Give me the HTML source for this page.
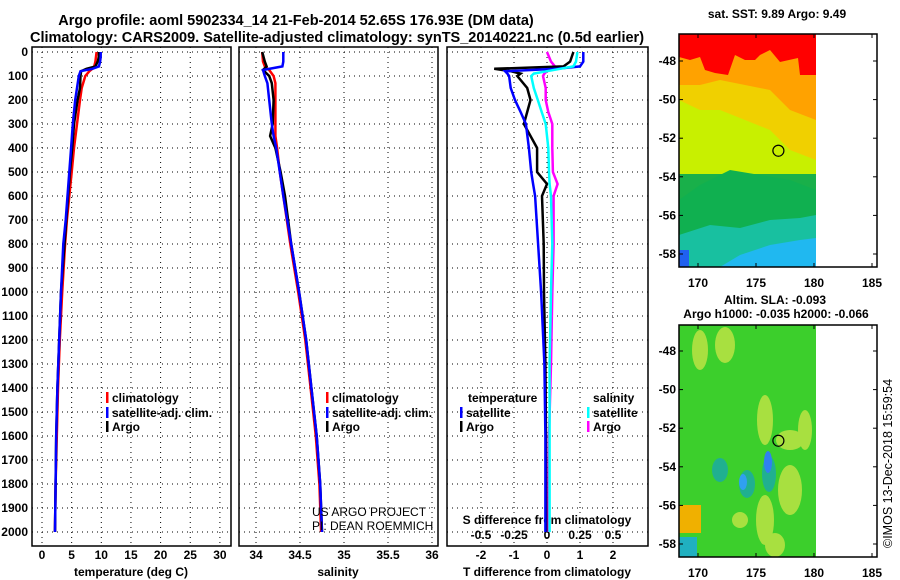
<!DOCTYPE html>
<html><head><meta charset="utf-8"><style>
body{margin:0;background:#fff;}
svg{display:block;font-family:"Liberation Sans",sans-serif;}
text{font-weight:bold;font-size:12px;fill:#000;}
</style></head><body>
<svg id="fig" width="900" height="580" viewBox="0 0 900 580">
<text x="296" y="25" text-anchor="middle" style="font-size:14.5px">Argo profile: aoml 5902334_14 21-Feb-2014 52.65S 176.93E (DM data)</text>
<text x="337" y="42" text-anchor="middle" style="font-size:14.5px">Climatology: CARS2009. Satellite-adjusted climatology: synTS_20140221.nc (0.5d earlier)</text>
<g id="maps"></g>
<g id="panels"></g>
</svg>
<script>
// ---- data ----
const depthT = [0,20,40,60,70,80,100,150,200,300,400,500,600,700,800,1000,1200,1400,1600,1800,2000];
const tempClim = [9.2,9.1,9.0,8.8,8.5,8.0,7.3,6.7,6.4,5.9,5.4,5.0,4.6,4.2,3.9,3.4,3.0,2.7,2.5,2.3,2.2];
const tempSat  = [9.9,9.9,9.8,9.6,8.5,6.5,6.2,5.9,5.6,5.2,4.9,4.6,4.3,4.0,3.6,3.2,2.9,2.6,2.4,2.3,2.2];
const tempArgo = [9.6,9.6,9.4,9.0,7.5,6.6,6.5,6.4,6.0,5.4,5.1,4.7,4.4,4.1,3.8,3.2,2.9,2.6,2.4,2.3,2.2];
const depthS = [0,40,60,75,100,130,200,300,350,400,500,600,800,1000,1200,1400,1600,1800,2000];
const salClim = [34.07,34.08,34.1,34.15,34.2,34.22,34.22,34.22,34.22,34.24,34.27,34.31,34.39,34.48,34.56,34.62,34.68,34.72,34.74];
const salSat  = [34.31,34.31,34.3,34.08,34.1,34.13,34.15,34.18,34.2,34.23,34.27,34.31,34.4,34.49,34.57,34.63,34.69,34.73,34.75];
const salArgo = [34.07,34.1,34.12,34.08,34.15,34.18,34.2,34.19,34.16,34.22,34.28,34.33,34.4,34.49,34.57,34.63,34.69,34.73,34.75];
const depthD = [0,40,60,70,80,90,100,150,200,250,300,400,500,550,600,800,1000,1300,1600,2000];
const tDiffSat  = [1.1,1.1,1.0,0.3,-1.27,-1.2,-1.15,-1.1,-0.97,-0.8,-0.64,-0.55,-0.48,-0.42,-0.36,-0.27,-0.18,-0.08,-0.05,-0.05];
const tDiffArgo = [0.8,0.7,0.5,-1.6,-1.1,-0.8,-0.9,-0.6,-0.5,-0.6,-0.7,-0.3,-0.3,0.0,-0.15,-0.1,-0.09,-0.05,-0.03,-0.02];
const sDiffSat  = [0.23,0.22,0.2,0.1,0.0,-0.1,-0.12,-0.1,-0.07,-0.04,-0.01,0.01,0.015,0.02,0.03,0.04,0.03,0.02,0.02,0.02];
const sDiffArgo = [0.0,0.03,0.06,0.04,0.0,-0.02,-0.03,-0.01,-0.01,0.01,0.04,0.04,0.045,0.08,0.05,0.05,0.04,0.03,0.015,0.01];
const depthTicks = [0,100,200,300,400,500,600,700,800,900,1000,1100,1200,1300,1400,1500,1600,1700,1800,1900,2000];
const tempTicks = [0,5,10,15,20,25,30];
const salTicks = [34,34.5,35,35.5,36];
const tdTicks = [-2,-1,0,1,2];
const sdTicks = [-0.5,-0.25,0,0.25,0.5];
const lonTicks = [170,175,180,185];
const latTicks = [-48,-50,-52,-54,-56,-58];

const NS='http://www.w3.org/2000/svg';
function el(tag,attrs,parent,txt){const e=document.createElementNS(NS,tag);for(const k in attrs)e.setAttribute(k,attrs[k]);if(txt!==undefined)e.textContent=txt;parent.appendChild(e);return e;}
const panels=document.getElementById('panels');
const Y=d=>52+0.24*d;
const pTop=47,pBot=546;

function frame(x0,x1,g){
  const r=el('rect',{x:x0,y:pTop,width:x1-x0,height:pBot-pTop,fill:'none',stroke:'#000','stroke-width':1.5},g);
  
  
}
function hgrid(x0,x1,g){
  depthTicks.forEach(d=>{
    const l=el('line',{x1:x0,x2:x1,y1:Y(d),y2:Y(d),stroke:'#000','stroke-dasharray':'1,4'},g);
    
    
  });
}
function vgrid(xs,g){
  xs.forEach(x=>{
    const l=el('line',{x1:x,x2:x,y1:pTop,y2:pBot,stroke:'#000','stroke-dasharray':'1,4'},g);
    
    
  });
}
function line(xs,ds,Xf,color,g,name){
  const pts=xs.map((v,i)=>Xf(v).toFixed(1)+','+Y(ds[i]).toFixed(1)).join(' ');
  const p=el('polyline',{points:pts,fill:'none',stroke:color,'stroke-width':2.5},g);
  
  
}
function legend(x,y,color,label,g){
  const m=el('rect',{x:x,y:y-10,width:2.5,height:11,fill:color},g);
  
  
  const t=el('text',{x:x+6,y:y},g,label);
  
  
}

// Panel 1 temperature
const XT=t=>42+5.93*t;
let g1=el('g',{},panels);


hgrid(32,231,g1); vgrid(tempTicks.map(XT),g1);
depthTicks.forEach(d=>{const t=el('text',{x:28,y:Y(d)+4,'text-anchor':'end'},g1,String(d));});
tempTicks.forEach(v=>{const t=el('text',{x:XT(v),y:559,'text-anchor':'middle'},g1,String(v));});
let xl=el('text',{x:131,y:576,'text-anchor':'middle'},g1,'temperature (deg C)');

line(tempClim,depthT,XT,'#f00',g1,'temp-climatology-line');
line(tempArgo,depthT,XT,'#000',g1,'temp-argo-line');
line(tempSat,depthT,XT,'#00f',g1,'temp-satellite-line');
legend(106,402,'#f00','climatology',g1);
legend(106,417,'#00f','satellite-adj. clim.',g1);
legend(106,431,'#000','Argo',g1);
frame(32,231,g1);

// Panel 2 salinity
const XS=s=>256+88*(s-34);
let g2=el('g',{},panels);


hgrid(239,438,g2); vgrid(salTicks.map(XS),g2);
salTicks.forEach(v=>{const t=el('text',{x:XS(v),y:559,'text-anchor':'middle'},g2,String(v));});
xl=el('text',{x:338,y:576,'text-anchor':'middle'},g2,'salinity');

line(salClim,depthS,XS,'#f00',g2,'sal-climatology-line');
line(salArgo,depthS,XS,'#000',g2,'sal-argo-line');
line(salSat,depthS,XS,'#00f',g2,'sal-satellite-line');
legend(326,402,'#f00','climatology',g2);
legend(326,417,'#00f','satellite-adj. clim.',g2);
legend(326,431,'#000','Argo',g2);
let c1=el('text',{x:312,y:516,style:'font-weight:normal'},g2,'US ARGO PROJECT');

let c2=el('text',{x:312,y:530,style:'font-weight:normal'},g2,'PI: DEAN ROEMMICH');

frame(239,438,g2);

// Panel 3 differences
const XTD=v=>547+33*v, XSD=v=>547+132*v;
let g3=el('g',{},panels);


hgrid(447,648,g3); vgrid(tdTicks.map(XTD),g3);
tdTicks.forEach(v=>{const t=el('text',{x:XTD(v),y:559,'text-anchor':'middle'},g3,String(v));});
sdTicks.forEach(v=>{const t=el('text',{x:XSD(v),y:539,'text-anchor':'middle'},g3,String(v));});
xl=el('text',{x:547,y:576,'text-anchor':'middle'},g3,'T difference from climatology');

xl=el('text',{x:547,y:524,'text-anchor':'middle'},g3,'S difference from climatology');

line(sDiffArgo,depthD,XSD,'#f0f',g3,'sdiff-argo-line');
line(tDiffArgo,depthD,XTD,'#000',g3,'tdiff-argo-line');
line(tDiffSat,depthD,XTD,'#00f',g3,'tdiff-satellite-line');
line(sDiffSat,depthD,XSD,'#0ff',g3,'sdiff-satellite-line');
let lt=el('text',{x:468,y:402},g3,'temperature');
let ls=el('text',{x:593,y:402},g3,'salinity');
legend(460,417,'#00f','satellite',g3);
legend(460,431,'#000','Argo',g3);
legend(587,417,'#0ff','satellite',g3);
legend(587,431,'#f0f','Argo',g3);
frame(447,648,g3);

// ---- maps ----
const maps=document.getElementById('maps');
const LX=lon=>698+11.6*(lon-170);
function mapAxes(g,y0,y1,lat48y){
  const LY=lat=>lat48y+19.3*(-48-lat);
  el('rect',{x:679,y:y0,width:198,height:y1-y0,fill:'none',stroke:'#000','stroke-width':1.5},g);
  lonTicks.forEach(v=>{
    el('line',{x1:LX(v),x2:LX(v),y1:y0,y2:y0+4,stroke:'#000'},g);
    el('line',{x1:LX(v),x2:LX(v),y1:y1,y2:y1-4,stroke:'#000'},g);
    const t=el('text',{x:LX(v),y:y1+20,'text-anchor':'middle'},g,String(v));
    
  });
  latTicks.forEach(v=>{
    el('line',{x1:679,x2:683,y1:LY(v),y2:LY(v),stroke:'#000'},g);
    el('line',{x1:873,x2:877,y1:LY(v),y2:LY(v),stroke:'#000'},g);
    const t=el('text',{x:676,y:LY(v)+4,'text-anchor':'end'},g,String(v));
    
  });
  const c=el('circle',{cx:LX(176.93),cy:LY(-52.65),r:5.5,fill:'none',stroke:'#000','stroke-width':1.2},g);
  
  return LY;
}
// SST map
let gm1=el('g',{},maps);

el('rect',{x:679,y:34,width:137,height:233,fill:'#19b04a'},gm1);
el('rect',{x:679,y:34,width:137,height:140,fill:'#c8f000'},gm1);
el('polygon',{points:'679,34 816,34 816,160 790,150 770,130 745,120 720,110 700,110 679,100',fill:'#f0d000'},gm1);
el('polygon',{points:'679,34 816,34 816,120 790,110 770,90 745,85 720,80 700,85 679,85',fill:'#ffa200'},gm1);
el('polygon',{points:'679,34 816,34 816,75 800,75 798,58 780,62 770,50 760,55 755,60 745,60 735,55 728,75 715,73 705,70 700,57 690,60 679,57',fill:'#ff0000'},gm1);
el('polygon',{points:'679,200 700,185 730,170 760,175 790,180 816,190 816,267 679,267',fill:'#10b050'},gm1);
el('polygon',{points:'679,235 710,225 740,228 770,220 800,218 816,215 816,267 679,267',fill:'#18c0a0'},gm1);
el('polygon',{points:'720,267 740,255 770,245 800,240 816,238 816,267',fill:'#20b8f0'},gm1);
el('rect',{x:679,y:250,width:10,height:17,fill:'#2060f0'},gm1);
let tm=el('text',{x:777,y:18,'text-anchor':'middle'},gm1,'sat. SST: 9.89 Argo: 9.49');

mapAxes(gm1,34,267,61);
// SLA map
let gm2=el('g',{},maps);

el('rect',{x:679,y:325,width:137,height:232,fill:'#3ccf2c'},gm2);
[[700,350,8,20],[725,345,10,18],[765,420,8,25],[790,440,14,10],[805,430,7,20],[790,490,12,25],[765,520,9,25],[775,545,10,12],[740,520,8,8]].forEach(e=>el('ellipse',{cx:e[0],cy:e[1],rx:e[2],ry:e[3],fill:'#a8e040'},gm2));
[[747,484,8,14],[769,474,7,18],[720,470,8,12]].forEach(e=>el('ellipse',{cx:e[0],cy:e[1],rx:e[2],ry:e[3],fill:'#20b090'},gm2));
el('ellipse',{cx:743,cy:482,rx:4,ry:8,fill:'#30a0f0'},gm2);
el('ellipse',{cx:768,cy:462,rx:4,ry:11,fill:'#3080f0'},gm2);
el('rect',{x:679,y:505,width:22,height:28,fill:'#f0b000'},gm2);
el('rect',{x:679,y:537,width:18,height:20,fill:'#20b0c0'},gm2);
tm=el('text',{x:775,y:304,'text-anchor':'middle'},gm2,'Altim. SLA: -0.093');

tm=el('text',{x:776,y:318,'text-anchor':'middle'},gm2,'Argo h1000: -0.035 h2000: -0.066');

mapAxes(gm2,325,557,351);
let ts=el('text',{x:892,y:548,transform:'rotate(-90 892 548)',style:'font-weight:normal;font-size:12.5px'},maps,'©IMOS 13-Dec-2018 15:59:54');

</script>
</body></html>
